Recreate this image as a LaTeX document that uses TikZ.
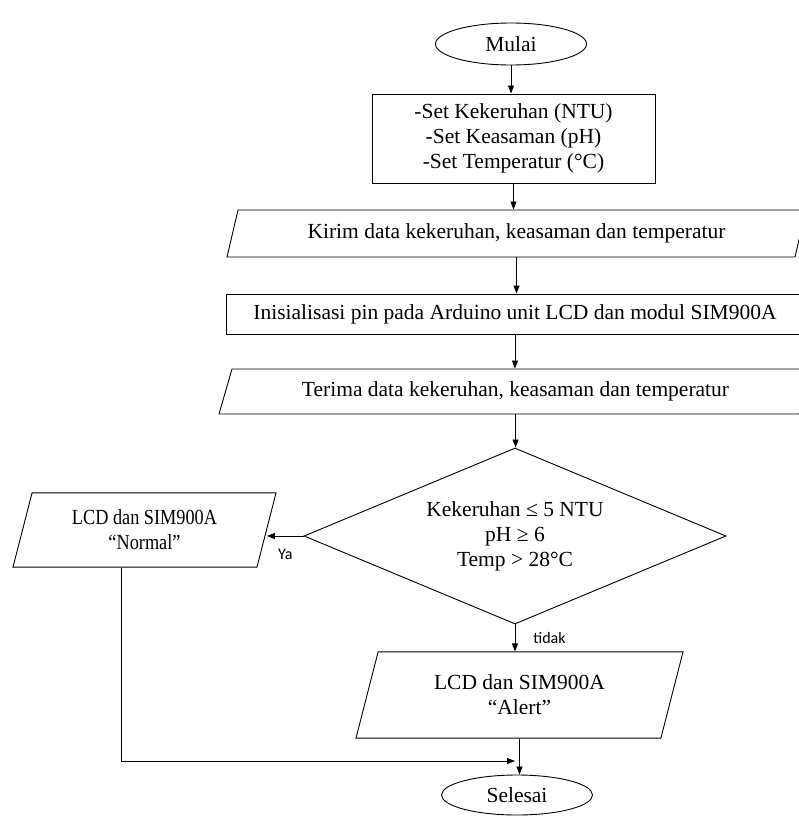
\documentclass[tikz,border=0pt]{standalone}
\usepackage{fontspec}
\setmainfont{Liberation Serif}
\newfontfamily\labelfont{Carlito}
\newfontfamily\narrowfont[FakeStretch=0.85]{Liberation Serif}
\usetikzlibrary{shapes.geometric,arrows.meta}

\begin{document}
\begin{tikzpicture}[x=1pt,y=-1pt,
  every node/.style={font=\fontsize{21.5}{25}\selectfont, align=center, inner sep=0pt},
  terminal/.style={draw, ellipse, line width=0.9pt, minimum width=151pt},
  process/.style={draw, rectangle, line width=0.9pt},
  io/.style={draw, trapezium, trapezium stretches body, line width=0.9pt},
  flow/.style={-{Triangle[length=8pt,width=6pt]}, line width=0.8pt},
  answer/.style={font=\labelfont\fontsize{16}{18}\selectfont}]
\useasboundingbox (0,0) rectangle (799,816);

\node[terminal, minimum height=42pt] (mulai) at (511,44) {Mulai};
\node[process, minimum width=283pt, minimum height=89pt] (set) at (513.5,138.5)
  {-Set Kekeruhan (NTU)\\-Set Keasaman (pH)\\-Set Temperatur (°C)};
\node[io, trapezium left angle=76.8, trapezium right angle=103.2,
  text height=15pt, text depth=5pt, inner ysep=13.5pt,
  minimum width=579pt] (kirim) at (516.5,233.5)
  {Kirim data kekeruhan, keasaman dan temperatur};
\node[process, minimum width=578pt, minimum height=40pt] (init) at (515,314)
  {Inisialisasi pin pada Arduino unit LCD dan modul SIM900A};
\node[io, trapezium left angle=73.9, trapezium right angle=106.1,
  text height=15pt, text depth=5pt, inner ysep=12.5pt,
  minimum width=593pt] (terima) at (515.5,391.5)
  {Terima data kekeruhan, keasaman dan temperatur};
\node[draw, diamond, aspect=2.4, line width=0.9pt, minimum width=422pt,
  minimum height=176pt] (cek) at (515,536)
  {Kekeruhan ≤ 5 NTU\\pH ≥ 6\\Temp > 28°C};
\node[io, trapezium left angle=75.6, trapezium right angle=104.4,
  inner ysep=17pt, minimum width=263pt, minimum height=74pt] (normal) at (144.5,530)
  {\narrowfont LCD dan SIM900A\\\narrowfont “Normal”};
\node[io, trapezium left angle=75.6, trapezium right angle=104.4,
  inner ysep=23pt, minimum width=327pt, minimum height=86pt] (alert) at (519.5,695)
  {LCD dan SIM900A\\“Alert”};
\node[terminal, minimum height=40pt] (selesai) at (517,795) {Selesai};

\coordinate (bend) at (121,761);
\coordinate (meet) at (515,761);

\draw[flow] (mulai) -- (mulai |- set.north);
\draw[flow] (set.south) -- (set.south |- kirim.north);
\draw[flow] (kirim.south) -- (kirim.south |- init.north);
\draw[flow] (init.south) -- (init.south |- terima.north);
\draw[flow] (terima.south) -- (terima.south |- cek.north);
\draw[flow] (cek.west) -- (normal.east |- cek.west)
  node[answer, midway, below=13pt] {Ya};
\draw[flow] (cek.south) -- (cek.south |- alert.north)
  node[answer, midway, right=18pt] {tidak};
\draw[flow] (alert.south) -- (alert.south |- selesai.north);
\draw[flow] (normal.south -| bend) -- (bend) -- (meet);
\end{tikzpicture}
\end{document}
